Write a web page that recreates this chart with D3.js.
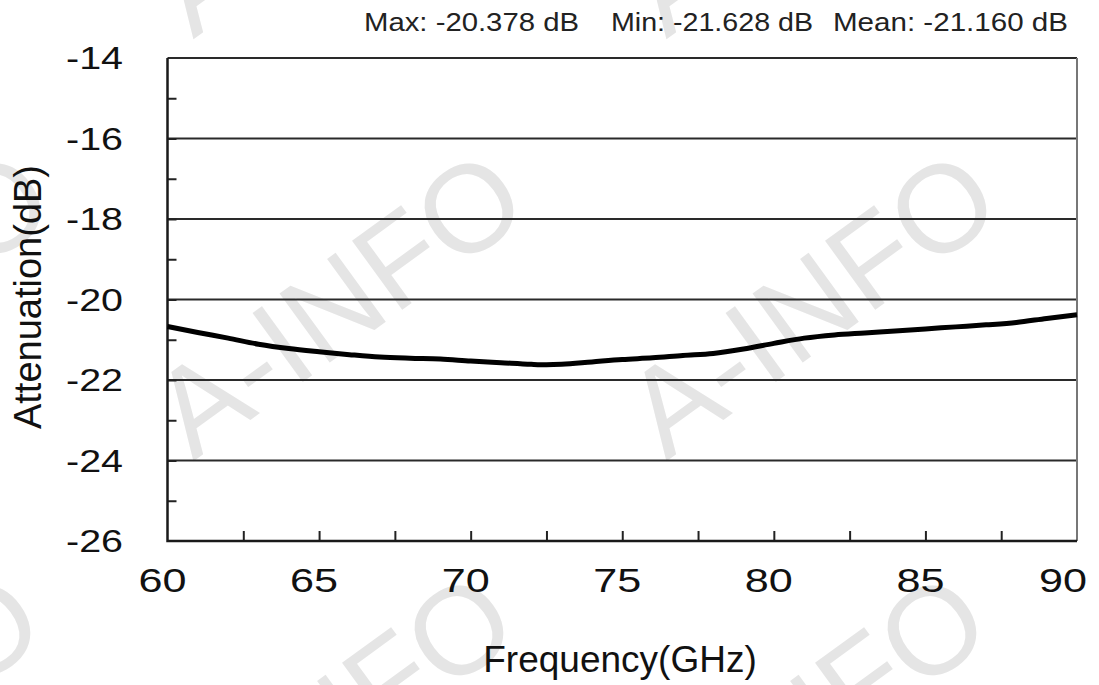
<!DOCTYPE html>
<html>
<head>
<meta charset="utf-8">
<script src="https://cdn.jsdelivr.net/npm/d3@7"></script>
<style>
  body { margin: 0; background: #fff; }
  svg { display: block; font-family: "Liberation Sans", Arial, sans-serif; }
</style>
</head>
<body>
<svg id="chart" width="1099" height="685"></svg>
<script>
const freq = [60, 61, 62, 63, 64, 65, 66, 67, 68, 69, 70, 71, 72, 72.5, 73, 74, 75, 76, 77, 78, 79, 80, 81, 82, 83, 84, 85, 86, 87, 88, 89, 90];
const atten = [-20.67, -20.82, -20.96, -21.11, -21.22, -21.30, -21.37, -21.43, -21.46, -21.48, -21.53, -21.57, -21.61, -21.62, -21.61, -21.55, -21.49, -21.45, -21.39, -21.34, -21.23, -21.09, -20.96, -20.88, -20.83, -20.78, -20.73, -20.68, -20.63, -20.57, -20.47, -20.38];
const xTicks = [60, 65, 70, 75, 80, 85, 90];
const yTicks = [-14, -16, -18, -20, -22, -24, -26];
const stats = ["Max: -20.378 dB", "Min: -21.628 dB", "Mean: -21.160 dB"];
const watermark = "A-INFO";

const svg = d3.select("#chart");
const plotL = 167.5, plotR = 1077, plotT = 58, plotB = 541;

const x = d3.scaleLinear().domain([60, 90]).range([plotL, plotR]);
const y = d3.scaleLinear().domain([-26, -14]).range([plotB, plotT]);

// watermarks, behind everything
const wm = svg.append("g").attr("fill", "#e5e5e5").attr("font-size", 124);
for (const [row, cy] of [-120, 302, 724].entries()) {
    for (const cx of [-136, 337, 810]) {
        wm.append("text")
            .attr("transform", `translate(${cx - (row === 2 ? 10 : 0)},${cy}) rotate(-36)`)
            .attr("text-anchor", "middle")
            .attr("dy", "0.36em")
            .text(watermark);
    }
}

// horizontal grid
svg.append("g")
    .selectAll("line")
    .data(yTicks.slice(0, -1))
    .join("line")
    .attr("x1", plotL).attr("x2", plotR)
    .attr("y1", d => y(d)).attr("y2", d => y(d))
    .attr("stroke", "#2a2a2a")
    .attr("stroke-width", 2);

// right border
svg.append("line")
    .attr("x1", plotR).attr("x2", plotR).attr("y1", plotT).attr("y2", plotB)
    .attr("stroke", "#777").attr("stroke-width", 2);

// minor ticks
svg.append("g")
    .attr("transform", `translate(0,${plotB})`)
    .call(d3.axisBottom(x).tickValues(d3.range(62.5, 90, 2.5)).tickSize(-10).tickFormat(""))
    .call(g => g.select(".domain").remove())
    .selectAll("line").attr("stroke", "#222").attr("stroke-width", 2);

svg.append("g")
    .attr("transform", `translate(${plotL},0)`)
    .call(d3.axisLeft(y).tickValues(d3.range(-25, -14, 1)).tickSize(-9).tickFormat(""))
    .call(g => g.select(".domain").remove())
    .selectAll("line").attr("stroke", "#222").attr("stroke-width", 2);

// axis lines
svg.append("path")
    .attr("d", `M${plotL},${plotT}V${plotB}H${plotR}`)
    .attr("fill", "none")
    .attr("stroke", "#1a1a1a")
    .attr("stroke-width", 2.5);

// tick labels
svg.append("g")
    .selectAll("text")
    .data(xTicks)
    .join("text")
    .attr("x", d => Math.min(x(d) - 5, plotR - 14))
    .attr("y", 592)
    .attr("text-anchor", "middle")
    .attr("font-size", 33)
    .attr("textLength", 48)
    .attr("lengthAdjust", "spacingAndGlyphs")
    .attr("fill", "#111")
    .text(d => d);

svg.append("g")
    .selectAll("text")
    .data(yTicks)
    .join("text")
    .attr("x", 123)
    .attr("y", d => y(d) + 11)
    .attr("text-anchor", "end")
    .attr("font-size", 31)
    .attr("textLength", 57)
    .attr("lengthAdjust", "spacingAndGlyphs")
    .attr("fill", "#111")
    .text(d => d);

// curve
const line = d3.line()
    .x((d, i) => x(freq[i]))
    .y(d => y(d))
    .curve(d3.curveMonotoneX);

svg.append("path")
    .datum(atten)
    .attr("d", line)
    .attr("fill", "none")
    .attr("stroke", "#000")
    .attr("stroke-width", 5)
    .attr("stroke-linejoin", "round");

// titles
svg.append("text")
    .attr("x", 620)
    .attr("y", 672)
    .attr("text-anchor", "middle")
    .attr("font-size", 37)
    .attr("fill", "#111")
    .text("Frequency(GHz)");

svg.append("text")
    .attr("transform", "translate(41,297) rotate(-90)")
    .attr("text-anchor", "middle")
    .attr("font-size", 38)
    .attr("fill", "#111")
    .text("Attenuation(dB)");

const statX = [364, 611, 833], statW = [215, 202, 235];
svg.append("g")
    .selectAll("text")
    .data(stats)
    .join("text")
    .attr("x", (d, i) => statX[i])
    .attr("y", 31)
    .attr("font-size", 26)
    .attr("textLength", (d, i) => statW[i])
    .attr("lengthAdjust", "spacingAndGlyphs")
    .attr("fill", "#222")
    .text(d => d);
</script>
</body>
</html>
